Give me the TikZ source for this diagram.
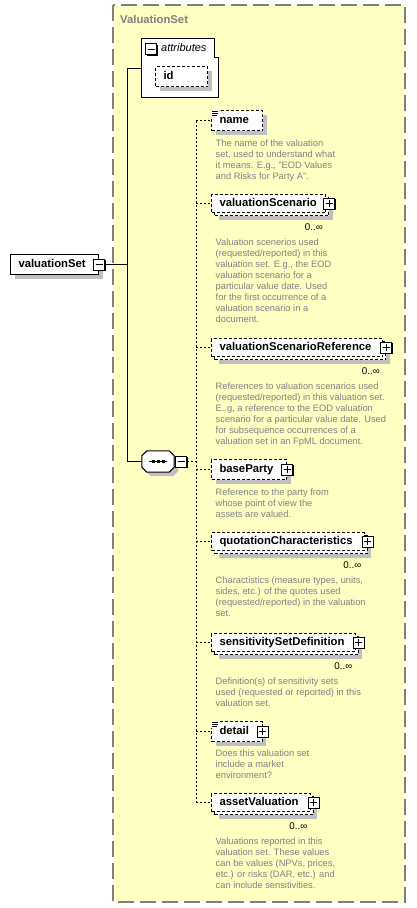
\documentclass[tikz,border=0pt]{standalone}
\usepackage{fontspec}
\setmainfont{Liberation Sans}
\usetikzlibrary{shadows}

\definecolor{typefill}{RGB}{255,255,196}
\definecolor{typeframe}{RGB}{128,128,128}
\definecolor{shadowgray}{RGB}{192,192,192}
\definecolor{docgray}{RGB}{128,128,128}

\newcommand\lblfont{\fontsize{11.3}{13}\selectfont\bfseries}
\newcommand\docfont{\fontsize{9.3}{11}\selectfont}

\tikzset{
  elem/.style={draw, dash pattern=on 3pt off 2pt, fill=white, line width=1pt,
    anchor=north west, inner xsep=8pt, inner ysep=0pt, minimum height=20pt,
    text height=7.5pt, text depth=2pt, font=\lblfont},
  single/.style={elem, drop shadow={shadow xshift=4pt, shadow yshift=-4pt,
    fill=shadowgray, opacity=1}},
  multi/.style={elem, minimum height=18pt,
    drop shadow={shadow xshift=7pt, shadow yshift=-7pt, fill=shadowgray, opacity=1},
    copy shadow={shadow xshift=3pt, shadow yshift=-3pt, draw, fill=white,
      dash pattern=on 3pt off 2pt, line width=1pt}},
  togglebox/.style={draw, solid, fill=white, line width=1pt, minimum size=11pt,
    inner sep=0pt, drop shadow={shadow xshift=1pt, shadow yshift=-1pt,
    fill=black, opacity=1}},
  minusbox/.style={togglebox, path picture={\draw[line width=1pt]
    ([xshift=2pt]path picture bounding box.west) --
    ([xshift=-2pt]path picture bounding box.east);}},
  plusbox/.style={togglebox, path picture={\draw[line width=1pt]
    ([xshift=2pt]path picture bounding box.west) --
    ([xshift=-2pt]path picture bounding box.east)
    ([yshift=-2pt]path picture bounding box.north) --
    ([yshift=2pt]path picture bounding box.south);}},
  seqnode/.style={minimum width=32pt, minimum height=21pt, inner sep=0pt},
  octpath/.style={insert path={([xshift=5pt]#1.north west) -- ([xshift=-5pt]#1.north east)
    -- ([yshift=-5pt]#1.north east) -- ([yshift=5pt]#1.south east)
    -- ([xshift=-5pt]#1.south east) -- ([xshift=5pt]#1.south west)
    -- ([yshift=5pt]#1.south west) -- ([yshift=-5pt]#1.north west) -- cycle}},
  bus/.style={dash pattern=on 2pt off 2pt, line width=1pt},
  mult/.style={anchor=base east, inner sep=0pt, font=\fontsize{9.8}{11}\selectfont},
  doc/.style={anchor=north west, align=left, inner sep=0pt, text=docgray, font=\docfont}
}

\begin{document}
\begin{tikzpicture}[x=1pt,y=-1pt]
  \useasboundingbox (0,0) rectangle (416,908);

  % complex type frame
  \filldraw[fill=typefill, draw=typeframe, line width=1.3pt,
    dash pattern=on 16pt off 6pt] (113,5) rectangle (405,902);
  \node[anchor=base west, inner sep=0pt, text=typeframe, font=\lblfont] (tname)
    at (120,23) {ValuationSet};

  % attributes
  \filldraw[fill=white, line width=1pt] (141,38) -- (214,38) -- (214,57)
    -- (218,57) -- (218,97) -- (141,97) -- cycle;
  \coordinate (attrs) at (141,68);
  \node[minusbox] (attrm) at (151,49) {};
  \node[anchor=base west, inner sep=0pt, font=\fontsize{11}{13}\selectfont\itshape]
    (attrlbl) at (161,51.5) {attributes};
  \node[single, text width=36pt] (id) at (155,66) {id};

  % root element
  \node[single, solid, text width=72pt] (vset) at (10,254) {valuationSet};
  \node[minusbox] (vsetm) at (vset.east) {};

  % sequence
  \node[seqnode] (seq) at (158,461.5) {};
  \fill[shadowgray, transform canvas={shift={(4pt,-4pt)}}] [octpath=seq];
  \filldraw[fill=white, line width=1pt] [octpath=seq];
  \draw[line width=1pt] ([xshift=-9pt]seq.center) -- ([xshift=9pt]seq.center);
  \fill ([xshift=-5pt]seq.center) +(-1.5,-1.5) rectangle +(1.5,1.5);
  \fill (seq.center) +(-1.5,-1.5) rectangle +(1.5,1.5);
  \fill ([xshift=5pt]seq.center) +(-1.5,-1.5) rectangle +(1.5,1.5);
  \node[minusbox] (seqm) at ([xshift=7pt]seq.east) {};

  % trunk lines
  \coordinate (atop) at (127,68);
  \coordinate (abot) at (127,461.5);
  \coordinate (bus) at (196,0);
  \draw[line width=1pt] (atop) -- (abot);
  \draw[line width=1pt] (vsetm.east) -- (vsetm.east -| atop);
  \draw[line width=1pt] (atop) -- (attrs);
  \draw[line width=1pt] (abot) -- (seq.west);

  % child elements
  \node[single, text width=35pt] (name) at (211,110) {name};
  \node[multi, text width=98pt] (vscen) at (211,194) {valuationScenario};
  \node[multi, text width=155pt] (vsref) at (211,338) {valuationScenarioReference};
  \node[single, text width=59pt] (party) at (211,459) {baseParty};
  \node[multi, text width=136.5pt] (quote) at (211,532) {quotationCharacteristics};
  \node[multi, text width=127.5pt] (sens) at (211,633) {sensitivitySetDefinition};
  \node[single, text width=34.5pt] (detail) at (211,721) {detail};
  \node[multi, text width=82.5pt] (aval) at (211,793) {assetValuation};

  % bus
  \draw[bus] (seqm.east) -- (seqm.east -| bus);
  \draw[bus] (name.west -| bus) -- (aval.west -| bus);
  \draw[bus] (name.west -| bus) -- (name.west);
  \draw[bus] (vscen.west -| bus) -- (vscen.west);
  \draw[bus] (vsref.west -| bus) -- (vsref.west);
  \draw[bus] (party.west -| bus) -- (party.west);
  \draw[bus] (quote.west -| bus) -- (quote.west);
  \draw[bus] (sens.west -| bus) -- (sens.west);
  \draw[bus] (detail.west -| bus) -- (detail.west);
  \draw[bus] (aval.west -| bus) -- (aval.west);

  % simple content icons
  \fill[white] (name.north west) rectangle +(8,7);
  \draw[line width=.8pt] ([shift={(1,1)}]name.north west) -- +(6,0)
    ([shift={(1,3)}]name.north west) -- +(6,0) ([shift={(1,5)}]name.north west) -- +(5,0);
  \fill[white] (detail.north west) rectangle +(8,7);
  \draw[line width=.8pt] ([shift={(1,1)}]detail.north west) -- +(6,0)
    ([shift={(1,3)}]detail.north west) -- +(6,0) ([shift={(1,5)}]detail.north west) -- +(5,0);

  % expand buttons
  \node[plusbox] (vscenp) at ([xshift=3pt]vscen.east) {};
  \node[plusbox] (vsrefp) at ([xshift=3pt]vsref.east) {};
  \node[plusbox] (partyp) at (party.east) {};
  \node[plusbox] (quotep) at ([xshift=3pt]quote.east) {};
  \node[plusbox] (sensp) at ([xshift=3pt]sens.east) {};
  \node[plusbox] (detailp) at (detail.east) {};
  \node[plusbox] (avalp) at ([xshift=3pt]aval.east) {};

  % occurrences
  \node[mult] (vscenm) at ([shift={(0,27)}]vscenp.west) {0..∞};
  \node[mult] (vsrefm) at ([shift={(0,27)}]vsrefp.west) {0..∞};
  \node[mult] (quotem) at ([shift={(0,27)}]quotep.west) {0..∞};
  \node[mult] (sensm) at ([shift={(0,27)}]sensp.west) {0..∞};
  \node[mult] (avalm) at ([shift={(0,27)}]avalp.west) {0..∞};

  % annotations
  \node[doc] (named) at ([shift={(4.5,29.2)}]name.north west)
    {The name of the valuation\\set, used to understand what\\it means. E.g., "EOD Values\\and Risks for Party A".};
  \node[doc] (vscend) at ([shift={(4.5,44.7)}]vscen.north west)
    {Valuation scenerios used\\(requested/reported) in this\\valuation set. E.g., the EOD\\valuation scenario for a\\particular value date. Used\\for the first occurrence of a\\valuation scenario in a\\document.};
  \node[doc] (vsrefd) at ([shift={(4.5,44.7)}]vsref.north west)
    {References to valuation scenarios used\\(requested/reported) in this valuation set.\\E..g, a reference to the EOD valuation\\scenario for a particular value date. Used\\for subsequence occurrences of a\\valuation set in an FpML document.};
  \node[doc] (partyd) at ([shift={(4.5,29.2)}]party.north west)
    {Reference to the party from\\whose point of view the\\assets are valued.};
  \node[doc] (quoted) at ([shift={(4.5,44.7)}]quote.north west)
    {Charactistics (measure types, units,\\sides, etc.) of the quotes used\\(requested/reported) in the valuation\\set.};
  \node[doc] (sensd) at ([shift={(4.5,44.7)}]sens.north west)
    {Definition(s) of sensitivity sets\\used (requested or reported) in this\\valuation set.};
  \node[doc] (detaild) at ([shift={(4.5,28.2)}]detail.north west)
    {Does this valuation set\\include a market\\environment?};
  \node[doc] (avald) at ([shift={(4.5,44.7)}]aval.north west)
    {Valuations reported in this\\valuation set. These values\\can be values (NPVs, prices,\\etc.) or risks (DAR, etc.) and\\can include sensitivities.};
\end{tikzpicture}
\end{document}
